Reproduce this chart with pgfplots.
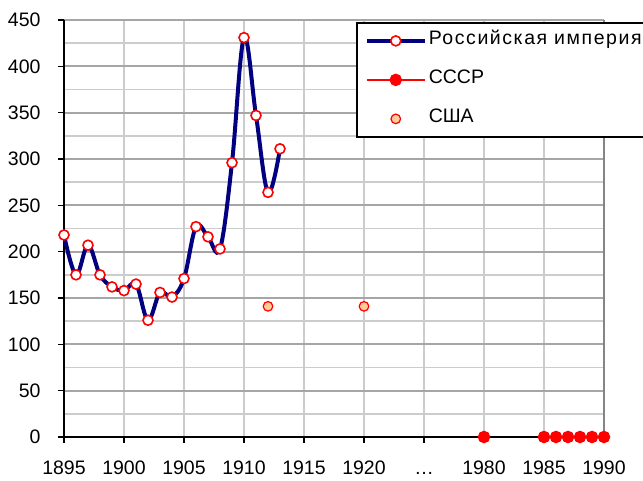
\documentclass[border=0pt]{standalone}
\usepackage{pgfplots}
\pgfplotsset{compat=1.18}
\usepackage{fontspec}
\setmainfont{Liberation Sans}
\definecolor{navyline}{HTML}{000080}
\definecolor{usafill}{HTML}{FFCC99}
\definecolor{gridmaj}{HTML}{A6A6A6}
\definecolor{gridmin}{HTML}{CCCCCC}

\pgfplotsset{
  longleg/.style={legend image code/.code={
    \draw[mark repeat=2,mark phase=2,##1] plot coordinates {(0pt,0pt) (29pt,0pt) (58pt,0pt)};}},
  dotleg/.style={legend image code/.code={
    \draw[##1] plot coordinates {(29pt,0pt)};}},
}

% x position: 1895..1920 -> year-1895, 1980..1990 -> year-1945
\pgfplotstableread{
x   y
0   218
1   175
2   207
3   175
4   162
5   158
6   165
7   126
8   156
9   151
10  171
11  227
12  216
13  203
14  296
15  431
16  347
17  264
18  311
}\russia
\pgfplotstableread{
x   y
35  0
36  nan
40  0
41  0
42  0
43  0
44  0
45  0
}\ussr
\pgfplotstableread{
x   y
17  141
25  141
}\usa

\begin{document}
\begin{tikzpicture}
\begin{axis}[
  at={(64pt,43pt)}, anchor=south west,
  scale only axis,
  width=540pt, height=417pt,
  xmin=0, xmax=45, ymin=0, ymax=450,
  axis x line*=bottom, axis y line*=left,
  axis line style={black, line width=1.6pt, -},
  xtick={0,5,...,45},
  xticklabels={1895,1900,1905,1910,1915,1920,\dots,1980,1985,1990},
  ytick={0,50,...,450},
  minor y tick num=1,
  minor tick length=0pt,
  major tick length=6pt,
  tick align=outside,
  tick style={black, line width=1.4pt},
  grid=both,
  x grid style={gridmin, line width=1.8pt},
  y grid style={gridmaj, line width=1.8pt},
  minor y grid style={gridmin, line width=1.8pt},
  tick label style={font=\fontsize{19.5}{22}\selectfont},
  /pgf/number format/assume math mode=true,
  xticklabel style={yshift=-14pt, text height=14pt, text depth=0pt},
  yticklabel style={xshift=-14pt},
  unbounded coords=jump,
  legend style={
    at={(rel axis cs:0.5407,0.995)}, anchor=north west,
    draw=black, line width=1.6pt,
    font=\fontsize{19.5}{22}\selectfont,
    inner xsep=8pt, inner ysep=5pt,
    row sep=13pt,
    nodes={text height=14pt, text depth=6pt, inner ysep=3pt, inner xsep=2pt},
    cells={anchor=west},
  },
  longleg,
  clip=false,
]
\draw[gridmaj!80!black, line width=1.8pt] (rel axis cs:1,0) -- (rel axis cs:1,1);
\addplot[navyline, line width=4pt, smooth, tension=0.6,
  mark=*, mark options={draw=red, fill=white, line width=1.6pt, solid},
  mark size=5pt] table[x=x,y=y] {\russia};
\addlegendentry{\addfontfeature{LetterSpace=8}Российская империя}
\addplot[red, line width=1.5pt, mark=*, mark options={fill=red, draw=red},
  mark size=5.5pt] table[x=x,y=y] {\ussr};
\addlegendentry{СССР}
\addplot[only marks, mark=*, mark options={draw=red, fill=usafill, line width=1.2pt},
  mark size=4.8pt, dotleg] table[x=x,y=y] {\usa};
\addlegendentry{США}
\end{axis}
\pgfresetboundingbox
\path (0pt,0pt) rectangle (643pt,480pt);
\end{tikzpicture}
\end{document}
